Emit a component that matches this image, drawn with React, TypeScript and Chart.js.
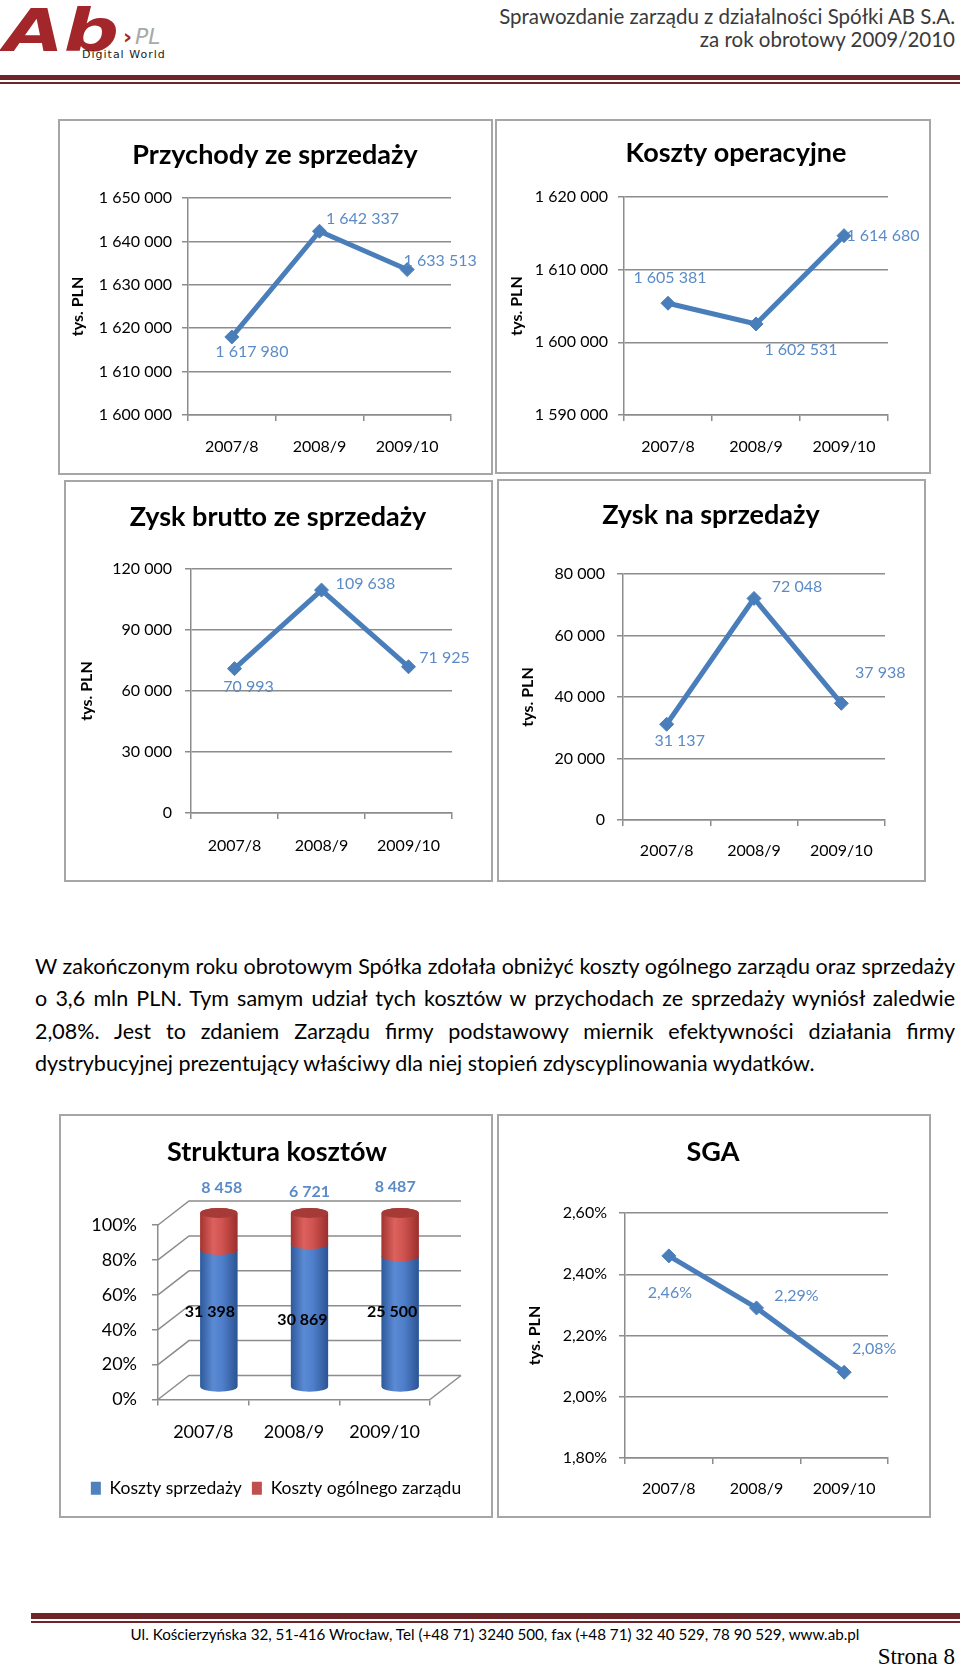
import React, { useEffect, useRef } from 'react';
import { Chart, registerables } from 'chart.js';

Chart.register(...registerables);

// ---------- DATA ----------
const CATEGORIES = ['2007/8', '2008/9', '2009/10'];
const REVENUE = [1617980, 1642337, 1633513];
const OPERATING_COSTS = [1605381, 1602531, 1614680];
const GROSS_PROFIT = [70993, 109638, 71925];
const SALES_PROFIT = [31137, 72048, 37938];
const SELLING_COSTS = [31398, 30869, 25500];
const ADMIN_COSTS = [8458, 6721, 8487];
const SGA = [2.46, 2.29, 2.08];
const LEGEND_LABELS = ['Koszty sprzedaży', 'Koszty ogólnego zarządu'];

const PARAGRAPH_LINES = [
  'W zakończonym roku obrotowym Spółka zdołała obniżyć koszty ogólnego zarządu oraz sprzedaży',
  'o 3,6 mln PLN. Tym samym udział tych kosztów w przychodach ze sprzedaży wyniósł zaledwie',
  '2,08%. Jest to zdaniem Zarządu firmy podstawowy miernik efektywności działania firmy',
  'dystrybucyjnej prezentujący właściwy dla niej stopień zdyscyplinowania wydatków.',
];

// ---------- STYLE ----------
const FONT = 'Lato, "Open Sans", "DejaVu Sans", sans-serif';
const GRID = '#8c8c8c';
const LINE = '#4a7ebb';
const LABEL = '#5b8bc6';
const TITLE_SIZE = 27;

const fmtInt = (v: number) => String(Math.round(v)).replace(/\B(?=(\d{3})+(?!\d))/g, ' ');
const fmtPct = (v: number) => Number(v).toFixed(2).replace('.', ',') + '%';

Chart.defaults.font.family = FONT;
Chart.defaults.color = '#000';

function titlePlugin(text: string, x: number, y: number, size = TITLE_SIZE) {
  return {
    id: 'customTitle',
    afterDraw(chart: any) {
      const c = chart.ctx;
      c.save();
      c.font = `bold ${size}px ${FONT}`;
      c.fillStyle = '#000';
      c.textAlign = 'center';
      c.textBaseline = 'middle';
      c.fillText(text, x, y);
      c.restore();
    },
  };
}

function pointLabelsPlugin(values: number[], fmt: (v: number) => string, offsets: number[][]) {
  return {
    id: 'pointLabels',
    afterDatasetsDraw(chart: any) {
      const meta = chart.getDatasetMeta(0);
      const c = chart.ctx;
      c.save();
      c.font = `16px ${FONT}`;
      c.fillStyle = LABEL;
      c.textAlign = 'center';
      c.textBaseline = 'middle';
      meta.data.forEach((pt: any, i: number) => {
        c.fillText(fmt(values[i]), pt.x + offsets[i][0], pt.y + offsets[i][1]);
      });
      c.restore();
    },
  };
}

type LineSpec = {
  w: number; h: number;
  ca: { left: number; top: number; right: number; bottom: number };
  values: number[];
  min: number; max: number; step: number;
  fmt: (v: number) => string;
  title: string; titleX: number; titleY: number;
  yTitlePad: number; yPad: number; xPad: number;
  offsets: number[][];
};

function lineConfig(s: LineSpec): any {
  const { w, h, ca } = s;
  return {
    type: 'line',
    data: {
      labels: CATEGORIES,
      datasets: [{
        data: s.values,
        borderColor: LINE,
        backgroundColor: LINE,
        borderWidth: 5,
        pointStyle: 'rectRot',
        pointRadius: 7,
        pointBorderWidth: 1,
        pointBackgroundColor: LINE,
        tension: 0,
        clip: false,
      }],
    },
    options: {
      responsive: false,
      animation: false,
      devicePixelRatio: 1,
      layout: { padding: { left: 0, top: ca.top, right: w - ca.right, bottom: 0 } },
      plugins: { legend: { display: false }, tooltip: { enabled: false }, title: { display: false } },
      scales: {
        x: {
          type: 'category',
          offset: true,
          grid: { offset: true, drawOnChartArea: false, drawTicks: true, tickLength: 6, color: GRID, lineWidth: 1.5 },
          border: { color: GRID, width: 1.5 },
          ticks: { padding: s.xPad, color: '#000', font: { size: 16, family: FONT }, maxRotation: 0, autoSkip: false },
          afterFit: (sc: any) => { sc.height = h - ca.bottom; },
        },
        y: {
          min: s.min,
          max: s.max,
          ticks: { stepSize: s.step, padding: s.yPad, color: '#000', font: { size: 16, family: FONT }, callback: (v: any) => s.fmt(Number(v)) },
          grid: { color: GRID, lineWidth: 1.5, tickLength: 6 },
          border: { color: GRID, width: 1.5 },
          title: {
            display: true, text: 'tys. PLN', color: '#000',
            font: { size: 16, weight: 'bold', family: FONT },
            padding: { top: s.yTitlePad, bottom: 0 },
          },
          afterFit: (sc: any) => { sc.width = ca.left; },
        },
      },
    },
    plugins: [titlePlugin(s.title, s.titleX, s.titleY), pointLabelsPlugin(s.values, s.fmt, s.offsets)],
  };
}

// ---------- Struktura kosztów (3D stacked cylinders) ----------
const TOP_LABEL_OFFSETS = [[3, -25], [0, -21], [-5, -26]];
const MID_LABEL_OFFSETS = [[-9, -7], [-7, 4], [-8, -10]];

function structureConfig(w: number, h: number): any {
  const ca = { left: 97, top: 109, right: 369, bottom: 284 };
  const totals = SELLING_COSTS.map((v, i) => v + ADMIN_COSTS[i]);
  const sellingPct = SELLING_COSTS.map((v, i) => (v / totals[i]) * 100);
  const adminPct = ADMIN_COSTS.map((v, i) => (v / totals[i]) * 100);
  const DX = 31, DY = -24;
  const RY = 5;

  const cyl = {
    id: 'cyl3d',
    beforeDatasetsDraw(chart: any) {
      const { ctx, chartArea: a, scales } = chart;
      const y = scales.y;
      ctx.save();
      ctx.strokeStyle = GRID;
      ctx.lineWidth = 1.5;
      y.ticks.forEach((t: any) => {
        const py = y.getPixelForValue(t.value);
        ctx.beginPath();
        ctx.moveTo(a.left, py);
        ctx.lineTo(a.left + DX, py + DY);
        ctx.lineTo(a.right + DX, py + DY);
        ctx.stroke();
      });
      ctx.beginPath();
      ctx.moveTo(a.right, a.bottom);
      ctx.lineTo(a.right + DX, a.bottom + DY);
      ctx.stroke();
      ctx.restore();
      ctx.save();
      ctx.translate(DX / 2, DY / 2);
    },
    afterDatasetsDraw(chart: any) {
      const ctx = chart.ctx;
      const palettes = [
        ['#2e5a9c', '#5b8ad4', '#4f7fca', '#2b5494'],
        ['#a33431', '#dc625e', '#cf524f', '#9b2f2c'],
      ];
      for (let di = 0; di < 2; di++) {
        const meta = chart.getDatasetMeta(di);
        meta.data.forEach((bar: any) => {
          const { x, y, base, width } = bar.getProps(['x', 'y', 'base', 'width'], true);
          const rx = width / 2;
          const l = x - rx, r = x + rx;
          const g = ctx.createLinearGradient(l, 0, r, 0);
          const st = palettes[di];
          g.addColorStop(0, st[0]);
          g.addColorStop(0.35, st[1]);
          g.addColorStop(0.6, st[2]);
          g.addColorStop(1, st[3]);
          ctx.beginPath();
          ctx.moveTo(l, y);
          ctx.lineTo(l, base);
          ctx.ellipse(x, base, rx, RY, 0, Math.PI, 0, true);
          ctx.lineTo(r, y);
          ctx.ellipse(x, y, rx, RY, 0, 0, Math.PI, true);
          ctx.closePath();
          ctx.fillStyle = g;
          ctx.fill();
          if (di === 1) {
            ctx.beginPath();
            ctx.ellipse(x, y, rx, RY, 0, 0, Math.PI * 2);
            ctx.fillStyle = '#a53a37';
            ctx.fill();
          }
        });
      }
      const m0 = chart.getDatasetMeta(0);
      const m1 = chart.getDatasetMeta(1);
      ctx.font = `bold 16px ${FONT}`;
      ctx.textAlign = 'center';
      ctx.textBaseline = 'middle';
      m1.data.forEach((bar: any, i: number) => {
        ctx.fillStyle = LABEL;
        ctx.fillText(fmtInt(ADMIN_COSTS[i]), bar.x + TOP_LABEL_OFFSETS[i][0], bar.y + TOP_LABEL_OFFSETS[i][1]);
      });
      m0.data.forEach((bar: any, i: number) => {
        ctx.fillStyle = '#000';
        ctx.fillText(fmtInt(SELLING_COSTS[i]), bar.x + MID_LABEL_OFFSETS[i][0], (bar.y + bar.base) / 2 + MID_LABEL_OFFSETS[i][1]);
      });
      ctx.restore();
    },
  };

  return {
    type: 'bar',
    data: {
      labels: CATEGORIES,
      datasets: [
        { label: LEGEND_LABELS[0], data: sellingPct, backgroundColor: '#4f81bd', barPercentage: 0.41, categoryPercentage: 1, clip: false },
        { label: LEGEND_LABELS[1], data: adminPct, backgroundColor: '#c0504d', barPercentage: 0.41, categoryPercentage: 1, clip: false },
      ],
    },
    options: {
      responsive: false,
      animation: false,
      devicePixelRatio: 1,
      layout: { padding: { left: 0, top: ca.top, right: 0, bottom: 9 } },
      plugins: {
        tooltip: { enabled: false },
        title: { display: false },
        legend: {
          display: true,
          position: 'bottom',
          labels: { boxWidth: 10, boxHeight: 13, padding: 10, color: '#000', font: { size: 17.5, family: FONT } },
        },
      },
      scales: {
        x: {
          stacked: true,
          offset: true,
          grid: { offset: true, drawOnChartArea: false, drawTicks: true, tickLength: 6, color: GRID, lineWidth: 1.5 },
          border: { color: GRID, width: 1.5 },
          ticks: { padding: 16, color: '#000', font: { size: 18, family: FONT }, maxRotation: 0, autoSkip: false },
          afterFit: (sc: any) => { sc.height = 70; },
        },
        y: {
          stacked: true,
          min: 0,
          max: 100,
          ticks: { stepSize: 20, padding: 15, color: '#000', font: { size: 18, family: FONT }, callback: (v: any) => v + '%' },
          grid: { drawOnChartArea: false, drawTicks: true, tickLength: 6, color: GRID, lineWidth: 1.5 },
          border: { color: GRID, width: 1.5 },
          afterFit: (sc: any) => { sc.width = ca.left; },
        },
        // empty right-hand spacer (room for the 3D depth of the walls)
        spacer: {
          type: 'linear',
          position: 'right',
          display: true,
          grid: { display: false, drawTicks: false },
          border: { display: false },
          ticks: { display: false },
          afterFit: (sc: any) => { sc.width = w - ca.right; },
        },
      },
    },
    plugins: [titlePlugin('Struktura kosztów', 216, 36), cyl],
  };
}

// ---------- components ----------
type Box = { x: number; y: number; w: number; h: number };

function ChartBox({ box, build }: { box: Box; build: (w: number, h: number) => any }) {
  const ref = useRef<HTMLCanvasElement>(null);
  const w = box.w - 4;
  const h = box.h - 4;
  useEffect(() => {
    const chart = new Chart(ref.current as HTMLCanvasElement, build(w, h));
    let alive = true;
    const fonts = (document as any).fonts;
    if (fonts && fonts.load) {
      Promise.all([
        fonts.load('16px Lato'),
        fonts.load('bold 16px Lato'),
      ]).then(() => { if (alive) chart.update(); }).catch(() => {});
    }
    return () => { alive = false; chart.destroy(); };
  }, []);
  return (
    <div style={{ position: 'absolute', left: box.x, top: box.y, width: box.w, height: box.h, border: '2px solid #a6a6a6', boxSizing: 'border-box', background: '#fff' }}>
      <canvas ref={ref} width={w} height={h} style={{ position: 'absolute', left: 0, top: 0, width: w, height: h }} />
    </div>
  );
}

const rule = (top: number, height: number, left = 0): React.CSSProperties => ({
  position: 'absolute', left, right: 0, top, height, background: '#6e2529',
});

export default function App() {
  return (
    <div style={{ position: 'absolute', left: 0, top: 0, width: 960, height: 1669, background: '#fff', overflow: 'hidden', fontFamily: FONT }}>
      {/* logo */}
      <div style={{ position: 'absolute', left: 4, top: 2, fontFamily: '"DejaVu Sans", sans-serif', fontWeight: 'bold', fontStyle: 'italic', fontSize: 58, lineHeight: '58px', color: '#a3262b', transform: 'scaleX(1.33)', transformOrigin: 'left top', whiteSpace: 'nowrap' }}>Ab</div>
      <div style={{ position: 'absolute', left: 123, top: 26, fontFamily: '"DejaVu Sans", sans-serif', fontSize: 22, lineHeight: '22px', whiteSpace: 'nowrap' }}>
        <span style={{ color: '#a3262b', fontWeight: 'bold' }}>›</span>
        <span style={{ color: '#a9a9a9', fontStyle: 'italic', marginLeft: 3 }}>PL</span>
      </div>
      <div style={{ position: 'absolute', left: 82, top: 49, fontFamily: '"DejaVu Sans", sans-serif', fontSize: 11, lineHeight: '12px', letterSpacing: 1, color: '#222', whiteSpace: 'nowrap' }}>Digital World</div>

      {/* header text */}
      <div style={{ position: 'absolute', right: 5, top: 5, textAlign: 'right', fontSize: 20.5, lineHeight: '23px', color: '#3a3a3a', whiteSpace: 'nowrap' }}>
        <div>Sprawozdanie zarządu z działalności Spółki AB S.A.</div>
        <div>za rok obrotowy 2009/2010</div>
      </div>
      <div style={rule(75, 5)} />
      <div style={rule(82, 2)} />

      {/* charts row 1 */}
      <ChartBox box={{ x: 58, y: 119, w: 435, h: 356 }} build={(w, h) => lineConfig({
        w, h, ca: { left: 128, top: 77, right: 391, bottom: 294 }, values: REVENUE,
        min: 1600000, max: 1650000, step: 10000, fmt: fmtInt,
        title: 'Przychody ze sprzedaży', titleX: 215, titleY: 34,
        yTitlePad: 8, yPad: 10, xPad: 16,
        offsets: [[20, 15], [43, -12], [33, -9]],
      })} />
      <ChartBox box={{ x: 495, y: 119, w: 436, h: 355 }} build={(w, h) => lineConfig({
        w, h, ca: { left: 127, top: 76, right: 391, bottom: 294 }, values: OPERATING_COSTS,
        min: 1590000, max: 1620000, step: 10000, fmt: fmtInt,
        title: 'Koszty operacyjne', titleX: 239, titleY: 32,
        yTitlePad: 10, yPad: 10, xPad: 16,
        offsets: [[2, -25], [45, 26], [39, 0]],
      })} />

      {/* charts row 2 */}
      <ChartBox box={{ x: 64, y: 480, w: 429, h: 402 }} build={(w, h) => lineConfig({
        w, h, ca: { left: 125, top: 87, right: 386, bottom: 331 }, values: GROSS_PROFIT,
        min: 0, max: 120000, step: 30000, fmt: fmtInt,
        title: 'Zysk brutto ze sprzedaży', titleX: 212, titleY: 35,
        yTitlePad: 11, yPad: 13, xPad: 17,
        offsets: [[14, 18], [44, -6], [36, -9]],
      })} />
      <ChartBox box={{ x: 497, y: 479, w: 429, h: 403 }} build={(w, h) => lineConfig({
        w, h, ca: { left: 124, top: 93, right: 386, bottom: 339 }, values: SALES_PROFIT,
        min: 0, max: 80000, step: 20000, fmt: fmtInt,
        title: 'Zysk na sprzedaży', titleX: 212, titleY: 34,
        yTitlePad: 19, yPad: 12, xPad: 15,
        offsets: [[13, 17], [43, -12], [39, -30]],
      })} />

      {/* paragraph */}
      <div style={{ position: 'absolute', left: 35, top: 950, width: 920, fontSize: 21.5, lineHeight: '32.3px', color: '#000' }}>
        {PARAGRAPH_LINES.map((t, i) => (
          <div key={i} style={{ textAlign: i < PARAGRAPH_LINES.length - 1 ? 'justify' : 'left', textAlignLast: i < PARAGRAPH_LINES.length - 1 ? 'justify' : 'left', whiteSpace: 'nowrap' } as any}>{t}</div>
        ))}
      </div>

      {/* charts row 3 */}
      <ChartBox box={{ x: 59, y: 1114, w: 434, h: 404 }} build={(w, h) => structureConfig(w, h)} />
      <ChartBox box={{ x: 497, y: 1114, w: 434, h: 404 }} build={(w, h) => lineConfig({
        w, h, ca: { left: 126, top: 97, right: 389, bottom: 342 }, values: SGA,
        min: 1.8, max: 2.6, step: 0.2, fmt: fmtPct,
        title: 'SGA', titleX: 214, titleY: 36,
        yTitlePad: 26, yPad: 12, xPad: 15,
        offsets: [[1, 37], [40, -12], [30, -23]],
      })} />

      {/* footer */}
      <div style={rule(1613, 6, 31)} />
      <div style={rule(1621, 2, 31)} />
      <div style={{ position: 'absolute', left: 0, width: 990, top: 1624, textAlign: 'center', fontSize: 15.2, lineHeight: '20px', color: '#000', whiteSpace: 'nowrap' }}>
        Ul. Kościerzyńska 32, 51-416 Wrocław, Tel (+48 71) 3240 500, fax (+48 71) 32 40 529, 78 90 529, www.ab.pl
      </div>
      <div style={{ position: 'absolute', right: 5, top: 1645, fontFamily: '"Liberation Serif", serif', fontSize: 23, lineHeight: '24px', color: '#000', whiteSpace: 'nowrap' }}>Strona 8</div>
    </div>
  );
}
